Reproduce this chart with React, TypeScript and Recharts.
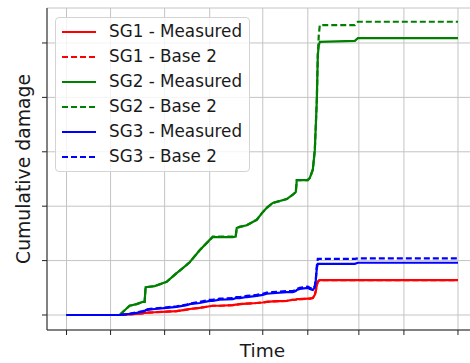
import { LineChart, Line, XAxis, YAxis, CartesianGrid, Legend, Label } from 'recharts'

// time samples (shared by every series)
const TIME = [
  0, 53, 63, 70, 76, 78, 79, 88, 100, 110, 120, 123, 133, 143, 146, 153, 166, 169, 170, 173, 180,
  190, 196, 200, 206, 220, 226, 229, 230, 233, 241, 243, 246, 248, 249, 250, 251, 252, 253, 288, 291, 391,
]
const TIME_TICKS = [0, 44, 98, 143, 196, 241, 292, 337, 391]
const DAMAGE_TICKS = [0, 1, 2, 3, 4, 5]

const SG1_MEASURED = [
  0, 0, 0.01, 0.02, 0.03, 0.04, 0.04, 0.05, 0.06, 0.07, 0.1, 0.11, 0.13, 0.16, 0.17, 0.17, 0.18, 0.19, 0.19, 0.2, 0.21,
  0.22, 0.23, 0.24, 0.25, 0.26, 0.28, 0.28, 0.29, 0.29, 0.3, 0.3, 0.31, 0.37, 0.44, 0.55, 0.61, 0.63, 0.64, 0.64, 0.64, 0.64,
]
const SG1_BASE2 = [
  0, 0, 0.01, 0.02, 0.03, 0.04, 0.04, 0.05, 0.06, 0.07, 0.1, 0.11, 0.13, 0.16, 0.17, 0.17, 0.18, 0.19, 0.19, 0.2, 0.21,
  0.22, 0.23, 0.24, 0.25, 0.26, 0.28, 0.28, 0.29, 0.29, 0.3, 0.3, 0.31, 0.37, 0.44, 0.55, 0.61, 0.63, 0.64, 0.64, 0.64, 0.64,
]
const SG2_MEASURED = [
  0, 0, 0.17, 0.2, 0.24, 0.24, 0.51, 0.53, 0.61, 0.77, 0.92, 0.97, 1.19, 1.38, 1.43, 1.43, 1.43, 1.44, 1.6, 1.62, 1.65,
  1.75, 1.89, 1.97, 2.06, 2.13, 2.21, 2.26, 2.48, 2.48, 2.48, 2.52, 2.67, 3.03, 3.49, 3.95, 4.78, 4.96, 5.02, 5.04, 5.09, 5.09,
]
const SG2_BASE2 = [
  0, 0, 0.17, 0.2, 0.24, 0.24, 0.51, 0.53, 0.61, 0.77, 0.92, 0.97, 1.19, 1.38, 1.44, 1.44, 1.44, 1.45, 1.6, 1.62, 1.65,
  1.75, 1.89, 1.97, 2.06, 2.13, 2.21, 2.26, 2.48, 2.48, 2.48, 2.52, 2.67, 3.03, 3.49, 3.95, 4.78, 5.15, 5.33, 5.33, 5.39, 5.39,
]
const SG3_MEASURED = [
  0, 0, 0.02, 0.04, 0.06, 0.07, 0.09, 0.11, 0.13, 0.15, 0.18, 0.2, 0.22, 0.26, 0.26, 0.28, 0.29, 0.31, 0.31, 0.31, 0.33,
  0.35, 0.37, 0.39, 0.4, 0.42, 0.42, 0.44, 0.46, 0.48, 0.5, 0.48, 0.46, 0.51, 0.64, 0.86, 0.94, 0.94, 0.94, 0.94, 0.96, 0.96,
]
const SG3_BASE2 = [
  0, 0, 0.02, 0.05, 0.07, 0.08, 0.1, 0.12, 0.14, 0.16, 0.19, 0.21, 0.24, 0.28, 0.28, 0.3, 0.31, 0.33, 0.33, 0.33, 0.35,
  0.37, 0.39, 0.41, 0.42, 0.44, 0.44, 0.46, 0.48, 0.5, 0.52, 0.5, 0.48, 0.53, 0.66, 0.9, 1.03, 1.03, 1.03, 1.03, 1.04, 1.04,
]

const SERIES = [
  { key: 'sg1Measured', name: 'SG1 - Measured', color: '#ff0000', dashed: false, values: SG1_MEASURED },
  { key: 'sg1Base2', name: 'SG1 - Base 2', color: '#ff0000', dashed: true, values: SG1_BASE2 },
  { key: 'sg2Measured', name: 'SG2 - Measured', color: '#008000', dashed: false, values: SG2_MEASURED },
  { key: 'sg2Base2', name: 'SG2 - Base 2', color: '#008000', dashed: true, values: SG2_BASE2 },
  { key: 'sg3Measured', name: 'SG3 - Measured', color: '#0000ff', dashed: false, values: SG3_MEASURED },
  { key: 'sg3Base2', name: 'SG3 - Base 2', color: '#0000ff', dashed: true, values: SG3_BASE2 },
]

const rows = TIME.map((t, i) => {
  const row: Record<string, number> = { t }
  SERIES.forEach((s) => {
    row[s.key] = s.values[i]
  })
  return row
})

const FONT = '"DejaVu Sans", sans-serif'
const DASH = '6 3'
const noLabel = () => ''

function LegendBox() {
  return (
    <div
      style={{
        width: 195,
        height: 155,
        boxSizing: 'border-box',
        border: '1px solid #d4d4d4',
        borderRadius: 4,
        background: 'rgba(255,255,255,0.8)',
        paddingTop: 1,
        fontFamily: FONT,
        fontSize: 16.8,
        color: '#1a1a1a',
      }}
    >
      {SERIES.map((s) => (
        <div key={s.key} style={{ display: 'flex', alignItems: 'center', height: 25 }}>
          <svg width={34} height={4} style={{ marginLeft: 6, marginRight: 13, display: 'block' }}>
            <line x1={0} y1={2} x2={34} y2={2} stroke={s.color} strokeWidth={2} strokeDasharray={s.dashed ? DASH : undefined} />
          </svg>
          <span style={{ lineHeight: '25px', whiteSpace: 'nowrap' }}>{s.name}</span>
        </div>
      ))}
    </div>
  )
}

export default function App() {
  return (
    <div style={{ position: 'absolute', left: 0, top: 0, width: 470, height: 363, overflow: 'hidden', background: '#fff' }}>
      <LineChart width={480} height={363} data={rows} margin={{ top: 8, right: 2, bottom: 0, left: 0 }}>
        <CartesianGrid stroke="#c4c4c4" strokeWidth={1} />
        <XAxis
          dataKey="t"
          type="number"
          domain={[-19.5, 411]}
          ticks={TIME_TICKS}
          interval={0}
          allowDataOverflow
          tickFormatter={noLabel}
          tickSize={5}
          height={33}
          stroke="#222"
        >
          <Label value="Time" position="insideBottom" offset={6} style={{ fontFamily: FONT, fontSize: 18.5, fill: '#1a1a1a' }} />
        </XAxis>
        <XAxis
          xAxisId="top"
          orientation="top"
          dataKey="t"
          type="number"
          domain={[-19.5, 411]}
          allowDataOverflow
          tick={false}
          tickLine={false}
          height={0}
          stroke="#222"
        />
        <YAxis
          type="number"
          domain={[-0.276, 5.643]}
          ticks={DAMAGE_TICKS}
          interval={0}
          allowDataOverflow
          tickFormatter={noLabel}
          tickSize={5}
          width={47}
          stroke="#222"
        >
          <Label
            value="Cumulative damage"
            angle={-90}
            position="center"
            style={{ fontFamily: FONT, fontSize: 18.8, fill: '#1a1a1a', textAnchor: 'middle' }}
          />
        </YAxis>
        <Legend
          layout="vertical"
          align="center"
          verticalAlign="middle"
          content={() => <LegendBox />}
          wrapperStyle={{ left: 55, top: 17, width: 195, height: 155 }}
        />
        {SERIES.map((s) => (
          <Line
            key={s.key}
            dataKey={s.key}
            name={s.name}
            type="linear"
            stroke={s.color}
            strokeWidth={2.2}
            strokeDasharray={s.dashed ? DASH : undefined}
            dot={false}
            activeDot={false}
            isAnimationActive={false}
          />
        ))}
      </LineChart>
    </div>
  )
}
